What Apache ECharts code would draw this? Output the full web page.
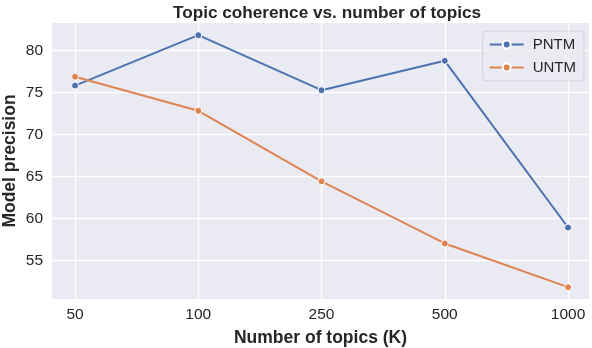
<!DOCTYPE html>
<html><head><meta charset="utf-8">
<script src="https://cdn.jsdelivr.net/npm/echarts@6/dist/echarts.min.js"></script>
<style>html,body{margin:0;padding:0;background:#fff}#c{width:592px;height:348px}</style>
</head><body><div id="c"></div>
<script>
const categories = ['50', '100', '250', '500', '1000'];
const pntm = [75.85, 81.85, 75.3, 78.8, 58.95];
const untm = [76.9, 72.85, 64.45, 57.05, 51.85];
const yTicks = [55, 60, 65, 70, 75, 80];
const xTicks = [0, 1, 2, 3, 4];

const font = '"Liberation Sans", Arial, Helvetica, sans-serif';
const txt = '#262626';
const chart = echarts.init(document.getElementById('c'), null, {renderer: 'canvas'});
const toPts = arr => arr.map((v, i) => [i, v]);
chart.setOption({
  animation: false,
  backgroundColor: '#fff',
  title: {
    text: 'Topic coherence vs. number of topics',
    left: 322, top: 0, textAlign: 'center',
    textStyle: {fontFamily: font, fontSize: 17.2, fontWeight: 'bold', color: txt}
  },
  grid: {left: 52, right: 3, top: 23, bottom: 49, show: true, backgroundColor: '#EAEAF2', borderWidth: 0,
         containLabel: false, outerBoundsMode: 'none'},
  legend: {
    orient: 'vertical', right: 8, top: 31,
    padding: [6, 8, 6, 6], itemGap: 8,
    itemWidth: 34, itemHeight: 10,
    backgroundColor: 'rgba(234,234,242,0.85)', borderColor: '#d2d2da', borderWidth: 1, borderRadius: 4,
    textStyle: {fontFamily: font, fontSize: 15, color: txt, padding: [0, 0, 0, 4]},
    data: ['PNTM', 'UNTM']
  },
  xAxis: {
    type: 'value', min: -0.187, max: 4.17,
    name: 'Number of topics (K)', nameLocation: 'middle', nameGap: 30, nameMoveOverlap: false,
    nameTextStyle: {fontFamily: font, fontSize: 17.5, fontWeight: 'bold', color: txt},
    axisLine: {show: false},
    axisTick: {show: false, customValues: xTicks},
    axisLabel: {customValues: xTicks, formatter: v => categories[Math.round(v)], fontFamily: font, fontSize: 15.5, color: txt, margin: 8},
    splitLine: {show: true, lineStyle: {color: '#fff', width: 1.3}}
  },
  yAxis: {
    type: 'value', min: 50.44, max: 83.3,
    name: 'Model precision', nameLocation: 'middle', nameGap: 33, nameMoveOverlap: false,
    nameTextStyle: {fontFamily: font, fontSize: 17.5, fontWeight: 'bold', color: txt},
    axisLine: {show: false},
    axisTick: {show: false, customValues: yTicks},
    axisLabel: {customValues: yTicks, fontFamily: font, fontSize: 15.5, color: txt, margin: 9},
    splitLine: {show: true, lineStyle: {color: '#fff', width: 1.3}}
  },
  series: [
    {name: 'PNTM', type: 'line', data: toPts(pntm), color: '#4C72B0',
     symbol: 'circle', symbolSize: 7, lineStyle: {width: 2}, itemStyle: {borderColor: '#fff', borderWidth: 1}},
    {name: 'UNTM', type: 'line', data: toPts(untm), color: '#DD8452',
     symbol: 'circle', symbolSize: 7, lineStyle: {width: 2}, itemStyle: {borderColor: '#fff', borderWidth: 1}}
  ]
});
</script></body></html>
